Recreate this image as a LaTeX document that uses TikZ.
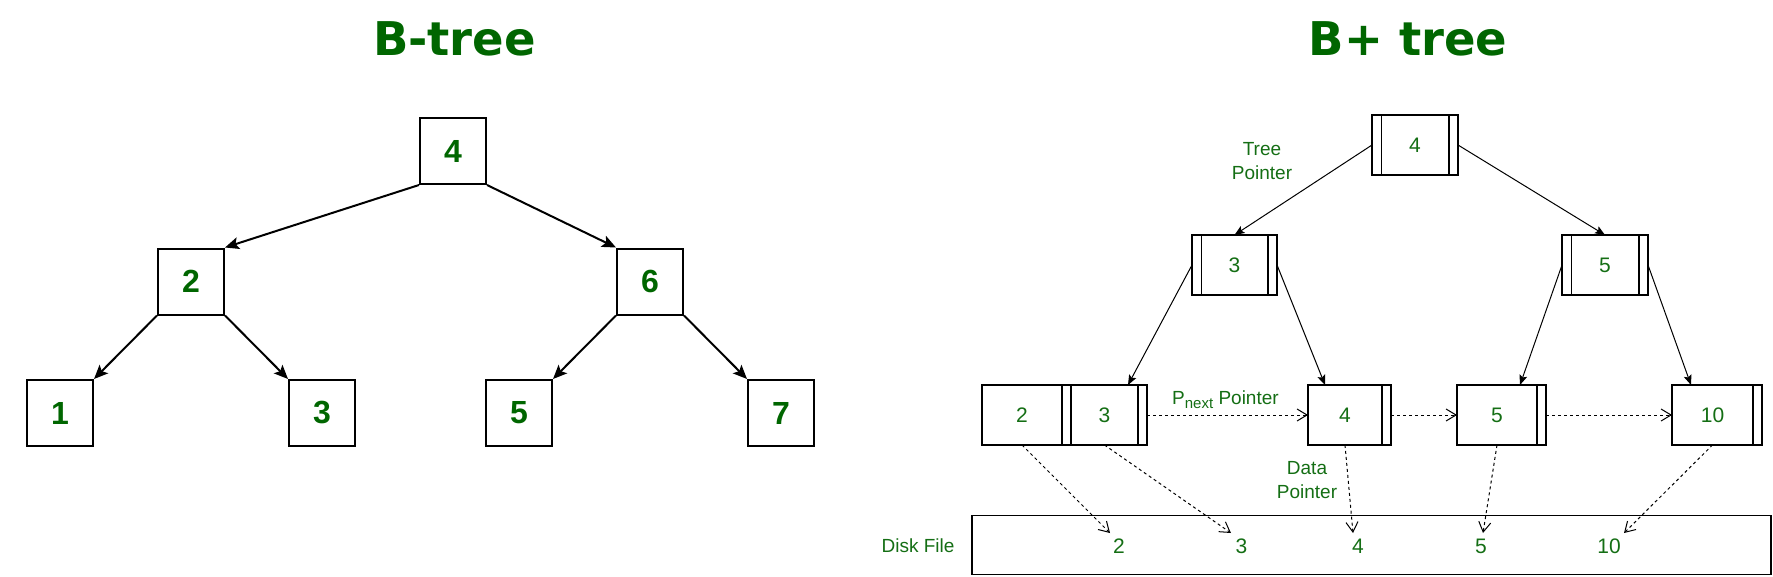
\documentclass[tikz,border=0pt]{standalone}
\usepackage{fontspec}
\setmainfont{Liberation Sans}
\newfontfamily\titlefont{DejaVu Sans}
\usetikzlibrary{arrows.meta}
\definecolor{gfg}{RGB}{0,102,0}
\definecolor{gtext}{RGB}{20,110,20}
\begin{document}
\begin{tikzpicture}[x=1pt,y=-1pt,
  title/.style={font=\titlefont\bfseries\fontsize{46.5}{50}\selectfont,text=gfg,anchor=base,inner sep=0pt},
  bnode/.style={draw,line width=2pt,minimum width=66pt,minimum height=66pt,inner sep=0pt,font=\fontsize{32}{38}\selectfont\bfseries,text=gfg},
  barrow/.style={line width=2pt,-{Stealth[length=14pt,width=12pt,inset=3pt]}},
  pnode/.style={draw,line width=1.5pt,minimum height=60pt,inner sep=0pt,outer sep=0pt,font=\fontsize{21}{25}\selectfont,text=gtext},
  strip/.style={draw,line width=1.5pt,minimum height=60pt,minimum width=9pt,inner sep=0pt,outer sep=0pt},
  tptr/.style={line width=1pt,-{Stealth[length=10pt,width=8pt,inset=2pt]}},
  dptr/.style={line width=1pt,dash pattern=on 3pt off 3pt,-{Straight Barb[length=10pt,width=12pt]}},
  lbl/.style={font=\fontsize{19}{24}\selectfont,text=gtext,align=center,inner sep=0pt},
  dnum/.style={font=\fontsize{21}{25}\selectfont,text=gtext,inner sep=0pt},
]
\useasboundingbox (0,0) rectangle (1773,576);

% titles
\node[title] (t1) at (454.5,55) {B-tree};
\node[title] (t2) at (1408,55) {B+ tree};

% ---------- B-tree ----------
\node[bnode] (b4) at (453,151) {4};
\node[bnode] (b2) at (191,281.5) {2};
\node[bnode] (b6) at (650,281.5) {6};
\node[bnode] (b1) at (60,413) {1};
\node[bnode] (b3) at (322,413) {3};
\node[bnode] (b5) at (519,413) {5};
\node[bnode] (b7) at (781,413) {7};
\draw[barrow] (b4.south west) -- (b2.north east);
\draw[barrow] (b4.south east) -- (b6.north west);
\draw[barrow] (b2.south west) -- (b1.north east);
\draw[barrow] (b2.south east) -- (b3.north west);
\draw[barrow] (b6.south west) -- (b5.north east);
\draw[barrow] (b6.south east) -- (b7.north west);

% ---------- B+ tree ----------
\node[pnode,minimum width=86pt] (R4) at (1415,145) {4};
\node[pnode,minimum width=85pt] (N3) at (1234.5,265) {3};
\node[pnode,minimum width=86pt] (N5) at (1605,265) {5};
\foreach \n in {R4,N3,N5}{
  \draw[line width=1.5pt] ([xshift=9.5pt]\n.north west) -- ([xshift=9.5pt]\n.south west);
  \draw[line width=1.5pt] ([xshift=-9pt]\n.north east) -- ([xshift=-9pt]\n.south east);
}

% leaves
\node[pnode,minimum width=80pt] (L2) at (1022,415) {2};
\node[strip,anchor=west] (S2) at (L2.east) {};
\node[pnode,minimum width=67pt,anchor=west] (L3) at (S2.east) {3};
\node[strip,anchor=west] (S3) at (L3.east) {};
\node[pnode,minimum width=74pt] (L4) at (1345,415) {4};
\node[strip,anchor=west] (S4) at (L4.east) {};
\node[pnode,minimum width=80pt] (L5) at (1497,415) {5};
\node[strip,anchor=west] (S5) at (L5.east) {};
\node[pnode,minimum width=81pt] (L10) at (1712.5,415) {10};
\node[strip,anchor=west] (S10) at (L10.east) {};

% tree pointers
\draw[tptr] (R4.west) -- (N3.north);
\draw[tptr] (R4.east) -- (N5.north);
\draw[tptr] (N3.west) -- ([xshift=23.5pt]L3.north);
\draw[tptr] (N3.east) -- ([xshift=17pt]L4.north west);
\draw[tptr] (N5.west) -- ([xshift=23pt]L5.north);
\draw[tptr] (N5.east) -- ([xshift=-21.5pt]L10.north);

% next pointers
\draw[dptr] (S3.east) -- (L4.west);
\draw[dptr] (S4.east) -- (L5.west);
\draw[dptr] (S5.east) -- (L10.west);

% disk file
\node[draw,line width=1.5pt,minimum width=799pt,minimum height=59pt,inner sep=0pt,outer sep=0pt] (disk) at (1371.5,545) {};
\node[lbl] (dl) at (918,546) {Disk File};
\node[dnum] (d2) at (1119,546) {2};
\node[dnum] (d3) at (1241.5,546) {3};
\node[dnum] (d4) at (1358,546) {4};
\node[dnum] (d5) at (1481,546) {5};
\node[dnum] (d10) at (1609,546) {10};
\coordinate (e2) at (1110,533);
\coordinate (e3) at (1231,533);
\coordinate (e4) at (1353,533);
\coordinate (e5) at (1483,533);
\coordinate (e10) at (1624,533);
\draw[dptr] (L2.south) -- (e2);
\draw[dptr] (L3.south) -- (e3);
\draw[dptr] (L4.south) -- (e4);
\draw[dptr] (L5.south) -- (e5);
\draw[dptr] (L10.south) -- (e10);

% labels
\node[lbl] (tp) at (1262,161) {Tree\\Pointer};
\node[lbl] (dp) at (1307,480) {Data\\Pointer};
\node[lbl,anchor=base west] (np) at (1172,404) {P\raisebox{-4pt}{\fontsize{15}{15}\selectfont next} Pointer};
\end{tikzpicture}
\end{document}
